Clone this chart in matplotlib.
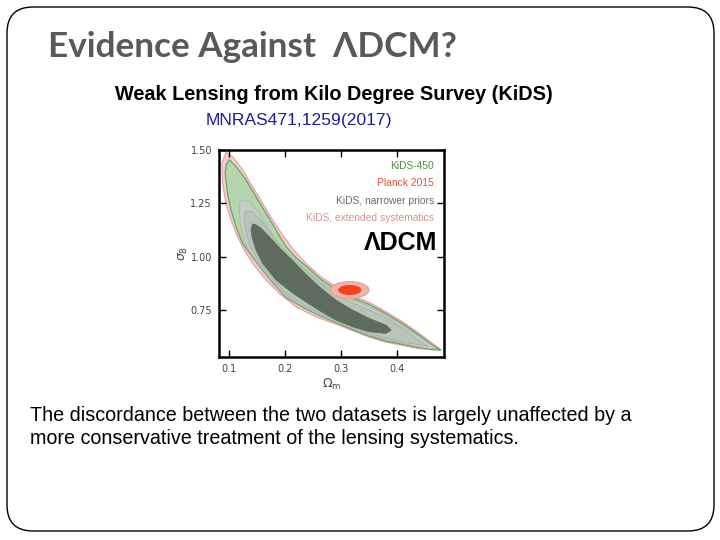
from matplotlib import pyplot
from matplotlib.patches import Ellipse, FancyBboxPatch
from matplotlib.transforms import IdentityTransform
import numpy

# contour outlines (Omega_m, sigma_8): upper edge left->right, lower edge right->left
ext_om_up = [0.0954, 0.1071, 0.1250, 0.1428, 0.1606, 0.1784, 0.1963, 0.2153, 0.2385, 0.2617, 0.2848, 0.3169, 0.3508, 0.3806, 0.4102, 0.4399, 0.4636, 0.4756]
ext_s8_up = [1.4885, 1.4697, 1.4073, 1.3289, 1.2509, 1.1725, 1.1021, 1.0350, 0.9670, 0.9120, 0.8700, 0.8200, 0.7860, 0.7420, 0.6951, 0.6406, 0.5937, 0.5702]
ext_om_lo = [0.4636, 0.4399, 0.4102, 0.3806, 0.3508, 0.3210, 0.2914, 0.2563, 0.2201, 0.1904, 0.1667, 0.1428, 0.1280, 0.1160, 0.1043, 0.0954, 0.0893, 0.0882]
ext_s8_lo = [0.5646, 0.5692, 0.5843, 0.5998, 0.6232, 0.6538, 0.6843, 0.7171, 0.7655, 0.8284, 0.8908, 0.9692, 1.0317, 1.0941, 1.1725, 1.2509, 1.3448, 1.4387]

k450_om_up = [0.1012, 0.1132, 0.1310, 0.1488, 0.1667, 0.1845, 0.2023, 0.2207, 0.2421, 0.2635, 0.2866, 0.3169, 0.3508, 0.3806, 0.4102, 0.4399, 0.4636, 0.4791]
k450_s8_up = [1.4542, 1.4228, 1.3603, 1.2819, 1.2040, 1.1256, 1.0472, 0.9941, 0.9472, 0.8960, 0.8550, 0.8110, 0.7760, 0.7336, 0.6866, 0.6326, 0.5857, 0.5622]
k450_om_lo = [0.4631, 0.4399, 0.4102, 0.3806, 0.3508, 0.3210, 0.2914, 0.2617, 0.2380, 0.2023, 0.1784, 0.1547, 0.1333, 0.1250, 0.1132, 0.1043, 0.0982, 0.0941, 0.0959]
k450_s8_lo = [0.5646, 0.5739, 0.5890, 0.6045, 0.6279, 0.6585, 0.6913, 0.7242, 0.7547, 0.8087, 0.8791, 0.9566, 1.0317, 1.0631, 1.1411, 1.2195, 1.2979, 1.3918, 1.4307]

narrow_om_up = [0.1221, 0.1369, 0.1547, 0.1725, 0.1934, 0.2135, 0.2367, 0.2617, 0.2866, 0.3169, 0.3508, 0.3806, 0.4102, 0.4399, 0.4702]
narrow_s8_up = [1.2664, 1.2585, 1.2040, 1.1256, 1.0472, 0.9941, 0.9378, 0.8840, 0.8420, 0.8016, 0.7660, 0.7242, 0.6772, 0.6232, 0.5716]
narrow_om_lo = [0.4560, 0.4102, 0.3508, 0.2914, 0.2617, 0.2380, 0.2023, 0.1784, 0.1547, 0.1333, 0.1262, 0.1209, 0.1191, 0.1200]
narrow_s8_lo = [0.5692, 0.5927, 0.6326, 0.6960, 0.7289, 0.7594, 0.8134, 0.8838, 0.9613, 1.0411, 1.0974, 1.1538, 1.2195, 1.2523]

k68_om_up = [0.1307, 0.1422, 0.1601, 0.1815, 0.2046, 0.2332, 0.2617, 0.2902, 0.3205, 0.3508, 0.3811, 0.4096, 0.4381, 0.4560]
k68_s8_up = [1.2148, 1.2101, 1.1631, 1.0833, 1.0176, 0.9472, 0.8768, 0.8251, 0.7829, 0.7500, 0.7124, 0.6655, 0.6092, 0.5810]
k68_om_lo = [0.4096, 0.3508, 0.2920, 0.2617, 0.2385, 0.2046, 0.1797, 0.1565, 0.1387, 0.1316, 0.1280, 0.1280]
k68_s8_lo = [0.5998, 0.6397, 0.7030, 0.7359, 0.7664, 0.8204, 0.8908, 0.9683, 1.0458, 1.1068, 1.1631, 1.2007]

core_om_up = [0.1428, 0.1494, 0.1578, 0.1725, 0.1935, 0.2150, 0.2380, 0.2617, 0.2914, 0.3210, 0.3508, 0.3806, 0.3900]
core_s8_up = [1.1538, 1.1491, 1.1336, 1.0941, 1.0350, 0.9800, 0.9180, 0.8594, 0.7969, 0.7500, 0.7110, 0.6796, 0.6561]
core_om_lo = [0.3806, 0.3508, 0.3210, 0.2914, 0.2617, 0.2367, 0.2141, 0.1845, 0.1606, 0.1488, 0.1422, 0.1399]
core_s8_lo = [0.6406, 0.6481, 0.6716, 0.7030, 0.7480, 0.7900, 0.8300, 0.8908, 0.9692, 1.0317, 1.0880, 1.1256]

planck_center = (0.316, 0.844)
planck_95 = (0.0683, 0.0784)   # width in Omega_m, height in sigma_8
planck_68 = (0.0415, 0.0469)

legend_labels = ['KiDS-450', 'Planck 2015', 'KiDS, narrower priors', 'KiDS, extended systematics']
legend_colors = ['#4e8f47', '#e8503c', '#6a6a6a', '#d99090']
x_ticks = [0.1, 0.2, 0.3, 0.4]
y_ticks = [0.75, 1.00, 1.25, 1.50]

fig = pyplot.figure(figsize=(7.2, 5.4), dpi=100)

# slide frame
frame = FancyBboxPatch((7, 9), 707, 524, boxstyle='round,pad=0,rounding_size=26',
                       transform=IdentityTransform(), facecolor='none', edgecolor='black', linewidth=1)
fig.patches.append(frame)

fig.text(48/720, 1-47/540, 'Evidence Against  ΛDCM?', family=['Lato', 'DejaVu Sans'], weight='bold',
         fontsize=25.3, color='#595959', va='center', ha='left')
fig.text(334/720, 1-95/540, 'Weak Lensing from Kilo Degree Survey (KiDS)', family=['Liberation Sans', 'DejaVu Sans'],
         weight='bold', fontsize=14.3, color='black', ha='center', va='center')
fig.text(299/720, 1-120/540, 'MNRAS471,1259(2017)', family=['Liberation Sans', 'DejaVu Sans'],
         fontsize=12.6, color='#1c1c9c', ha='center', va='center')
fig.text(30/720, 1-427/540, 'The discordance between the two datasets is largely unaffected by a\n'
         'more conservative treatment of the lensing systematics.', family=['Liberation Sans', 'DejaVu Sans'],
         fontsize=14.2, color='black', ha='left', va='center', linespacing=1.25)

ax = fig.add_axes([219/720, 1-357/540, 225/720, 207/540])

def outline(om_up, s8_up, om_lo, s8_lo):
    return numpy.concatenate([om_up, om_lo]), numpy.concatenate([s8_up, s8_lo])

x, y = outline(ext_om_up, ext_s8_up, ext_om_lo, ext_s8_lo)
ax.fill(x, y, facecolor='#f3cccc', edgecolor='#e2a6a6', linewidth=0.9, zorder=1)
x, y = outline(k450_om_up, k450_s8_up, k450_om_lo, k450_s8_lo)
ax.fill(x, y, facecolor='#b4d5ad', edgecolor='#6f9e68', linewidth=0.9, zorder=2)
x, y = outline(narrow_om_up, narrow_s8_up, narrow_om_lo, narrow_s8_lo)
ax.fill(x, y, facecolor='#c6cec6', edgecolor='#a9b6a9', linewidth=0.6, zorder=3)
x, y = outline(k68_om_up, k68_s8_up, k68_om_lo, k68_s8_lo)
ax.fill(x, y, facecolor='#b7c4b7', edgecolor='#a3b1a3', linewidth=0.6, zorder=4)
x, y = outline(core_om_up, core_s8_up, core_om_lo, core_s8_lo)
ax.fill(x, y, facecolor='#5e6c5e', edgecolor='#5e6c5e', linewidth=0.5, zorder=5)

ax.add_patch(Ellipse(planck_center, planck_95[0], planck_95[1], facecolor='#f5b4ab', edgecolor='#eb9a90',
                     linewidth=0.8, zorder=6))
ax.add_patch(Ellipse(planck_center, planck_68[0], planck_68[1], facecolor='#f2421f', edgecolor='none', zorder=7))

ax.set_xlim(0.083, 0.484)
ax.set_ylim(0.53, 1.50)
ax.set_xticks(x_ticks)
ax.set_xticklabels(['%.1f' % v for v in x_ticks])
ax.set_yticks(y_ticks)
ax.set_yticklabels(['%.2f' % v for v in y_ticks])
ax.tick_params(direction='in', length=5, width=1, top=True, right=True, labelsize=7, labelcolor='#444444', pad=5)
for s in ax.spines.values():
    s.set_linewidth(1.8)

ax.set_xlabel(r'$\Omega_{\rm m}$', fontsize=9, color='#444444', labelpad=2)
ax.set_ylabel(r'$\sigma_8$', fontsize=9, color='#444444', labelpad=0)

for i, (lab, c) in enumerate(zip(legend_labels, legend_colors)):
    ax.text(0.955, 0.922 - i*0.083, lab, transform=ax.transAxes, ha='right', va='center',
            family=['Liberation Sans', 'DejaVu Sans'], fontsize=7.4, color=c, zorder=10)
ax.text(0.968, 0.551, 'ΛDCM', transform=ax.transAxes, ha='right', va='center',
        family=['Liberation Sans', 'DejaVu Sans'], weight='bold', fontsize=18, color='black', zorder=10)

fig.savefig('out.png', dpi=100)
